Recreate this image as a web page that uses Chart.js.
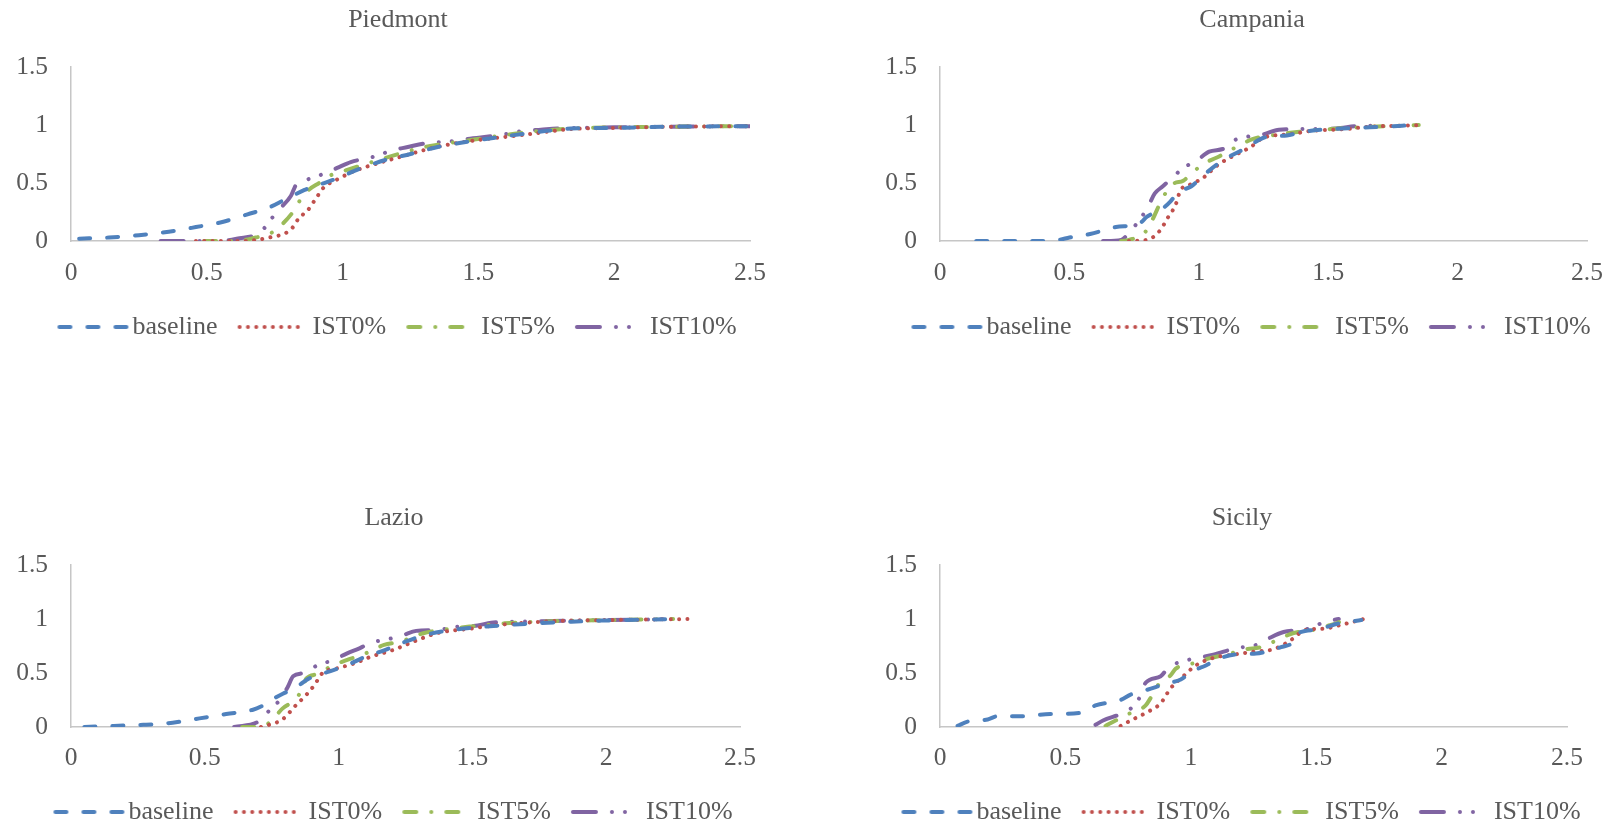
<!DOCTYPE html>
<html>
<head>
<meta charset="utf-8">
<title>Regional CDFs</title>
<script src="https://cdn.jsdelivr.net/npm/chart.js@4.4.1/dist/chart.umd.min.js"></script>
<style>
  html, body { margin: 0; padding: 0; background: #fff; overflow: hidden; }
  .panel { position: absolute; width: 805px; }
</style>
</head>
<body>
<div class="panel" style="left:0;top:0;height:355px"><canvas id="piedmont"></canvas></div>
<div class="panel" style="left:805px;top:0;height:355px"><canvas id="campania"></canvas></div>
<div class="panel" style="left:0;top:490px;height:350px"><canvas id="lazio"></canvas></div>
<div class="panel" style="left:805px;top:490px;height:350px"><canvas id="sicily"></canvas></div>

<script>
// series names and axis ticks
const seriesNames = ["baseline", "IST0%", "IST5%", "IST10%"];
const xTicks = [0, 0.5, 1, 1.5, 2, 2.5];
const yTicks = [0, 0.5, 1, 1.5];

// [x, y] points
const piedmontBaseline = [[0.03,0.02],[0.14,0.03],[0.25,0.05],[0.36,0.08],[0.46,0.12],[0.55,0.16],[0.65,0.23],[0.73,0.29],[0.79,0.36],[0.86,0.44],[0.92,0.49],[0.98,0.54],[1.06,0.62],[1.16,0.70],[1.25,0.75],[1.35,0.81],[1.47,0.86],[1.59,0.90],[1.72,0.94],[1.84,0.97],[2.0,0.975],[2.2,0.985],[2.5,0.99]];
const piedmontIst0 = [[0.46,0],[0.63,0],[0.73,0.03],[0.81,0.10],[0.84,0.20],[0.87,0.26],[0.90,0.36],[0.93,0.46],[0.98,0.53],[1.04,0.60],[1.13,0.67],[1.22,0.73],[1.31,0.79],[1.41,0.84],[1.53,0.88],[1.65,0.91],[1.78,0.95],[1.84,0.965],[2.0,0.975],[2.2,0.985],[2.5,0.99]];
const piedmontIst5 = [[0.49,0],[0.61,0],[0.68,0.03],[0.73,0.06],[0.78,0.15],[0.82,0.26],[0.84,0.34],[0.87,0.43],[0.92,0.51],[0.95,0.56],[1.0,0.60],[1.08,0.66],[1.15,0.71],[1.22,0.76],[1.30,0.81],[1.41,0.85],[1.53,0.89],[1.65,0.93],[1.78,0.96],[1.84,0.97],[2.0,0.98],[2.2,0.985],[2.5,0.99]];
const piedmontIst10 = [[0.33,0],[0.43,0],[0.55,0],[0.61,0.02],[0.70,0.08],[0.73,0.17],[0.77,0.28],[0.81,0.39],[0.83,0.49],[0.87,0.53],[0.92,0.57],[0.98,0.63],[1.03,0.68],[1.12,0.73],[1.18,0.78],[1.24,0.81],[1.30,0.84],[1.40,0.86],[1.46,0.88],[1.57,0.91],[1.67,0.95],[1.73,0.96],[1.79,0.97],[2.0,0.98],[2.2,0.985],[2.5,0.99]];

const campaniaBaseline = [[0.14,0],[0.25,0],[0.37,0],[0.46,0.01],[0.50,0.03],[0.58,0.06],[0.68,0.12],[0.77,0.15],[0.80,0.21],[0.86,0.28],[0.89,0.34],[0.92,0.42],[0.97,0.47],[1.02,0.57],[1.07,0.66],[1.12,0.73],[1.19,0.81],[1.25,0.89],[1.34,0.91],[1.40,0.94],[1.51,0.965],[1.66,0.98],[1.84,1.0]];
const campaniaIst0 = [[0.73,0],[0.80,0.01],[0.85,0.09],[0.88,0.20],[0.91,0.31],[0.93,0.44],[0.97,0.49],[1.02,0.55],[1.07,0.65],[1.13,0.73],[1.20,0.81],[1.25,0.89],[1.35,0.92],[1.44,0.95],[1.57,0.965],[1.66,0.985],[1.79,0.995],[1.86,1.0]];
const campaniaIst5 = [[0.70,0],[0.73,0.01],[0.79,0.07],[0.82,0.18],[0.86,0.37],[0.90,0.49],[0.94,0.52],[0.98,0.60],[1.03,0.68],[1.07,0.72],[1.12,0.78],[1.17,0.84],[1.21,0.88],[1.28,0.91],[1.38,0.94],[1.51,0.965],[1.66,0.985],[1.79,0.995],[1.85,1.0]];
const campaniaIst10 = [[0.63,0],[0.70,0.01],[0.73,0.07],[0.80,0.28],[0.83,0.41],[0.86,0.47],[0.90,0.55],[0.94,0.63],[0.99,0.69],[1.04,0.77],[1.10,0.80],[1.13,0.86],[1.19,0.90],[1.25,0.92],[1.31,0.96],[1.40,0.965],[1.53,0.97],[1.61,0.99],[1.71,0.995]];

const lazioBaseline = [[0.05,0],[0.16,0.01],[0.27,0.02],[0.38,0.04],[0.48,0.08],[0.58,0.12],[0.68,0.16],[0.71,0.19],[0.77,0.28],[0.81,0.33],[0.86,0.40],[0.89,0.45],[0.96,0.51],[1.03,0.57],[1.09,0.64],[1.17,0.71],[1.24,0.78],[1.32,0.85],[1.43,0.90],[1.55,0.93],[1.74,0.96],[1.87,0.975],[1.98,0.985],[2.15,0.995],[2.26,1.0]];
const lazioIst0 = [[0.71,0],[0.74,0.02],[0.79,0.07],[0.84,0.20],[0.88,0.30],[0.91,0.39],[0.94,0.50],[0.99,0.54],[1.06,0.59],[1.12,0.65],[1.20,0.71],[1.30,0.81],[1.37,0.87],[1.49,0.91],[1.62,0.95],[1.80,0.98],[2.0,0.99],[2.32,1.0]];
const lazioIst5 = [[0.64,0],[0.71,0],[0.75,0.06],[0.79,0.17],[0.83,0.24],[0.86,0.33],[0.88,0.45],[0.92,0.49],[0.97,0.56],[1.03,0.62],[1.09,0.67],[1.17,0.76],[1.23,0.79],[1.32,0.87],[1.42,0.91],[1.49,0.93],[1.62,0.96],[1.80,0.98],[2.0,0.99],[2.25,1.0]];
const lazioIst10 = [[0.61,0],[0.70,0.05],[0.74,0.15],[0.78,0.25],[0.81,0.37],[0.83,0.47],[0.87,0.50],[0.92,0.57],[0.98,0.62],[1.03,0.68],[1.08,0.73],[1.12,0.78],[1.18,0.81],[1.24,0.85],[1.29,0.89],[1.37,0.90],[1.45,0.93],[1.52,0.94],[1.57,0.965],[1.68,0.975],[2.0,0.99],[2.25,1.0]];

const sicilyBaseline = [[0.07,0.01],[0.11,0.05],[0.19,0.07],[0.23,0.10],[0.33,0.10],[0.44,0.12],[0.56,0.13],[0.62,0.20],[0.72,0.25],[0.76,0.30],[0.82,0.34],[0.90,0.40],[0.96,0.44],[1.01,0.52],[1.06,0.57],[1.10,0.62],[1.17,0.67],[1.26,0.68],[1.36,0.74],[1.41,0.79],[1.43,0.87],[1.50,0.90],[1.59,0.96],[1.68,0.99]];
const sicilyIst0 = [[0.72,0.01],[0.76,0.06],[0.82,0.13],[0.88,0.22],[0.92,0.36],[0.97,0.47],[1.02,0.57],[1.09,0.64],[1.17,0.67],[1.26,0.70],[1.33,0.72],[1.39,0.79],[1.46,0.90],[1.53,0.91],[1.59,0.94],[1.69,1.0]];
const sicilyIst5 = [[0.66,0.01],[0.70,0.06],[0.76,0.13],[0.82,0.20],[0.84,0.27],[0.87,0.39],[0.92,0.48],[0.94,0.54],[1.01,0.59],[1.08,0.64],[1.14,0.67],[1.22,0.72],[1.28,0.74],[1.33,0.79],[1.41,0.87],[1.49,0.90],[1.55,0.94],[1.59,0.97],[1.60,0.99]];
const sicilyIst10 = [[0.62,0.02],[0.65,0.06],[0.72,0.12],[0.76,0.17],[0.80,0.29],[0.82,0.41],[0.88,0.47],[0.91,0.55],[0.97,0.61],[1.03,0.64],[1.09,0.67],[1.18,0.73],[1.26,0.76],[1.31,0.82],[1.37,0.88],[1.47,0.91],[1.53,0.97],[1.59,1.0]];

const FONT = "'Liberation Serif', 'Times New Roman', serif";
const TEXT_COLOR = "#595959";
const AXIS_COLOR = "#c6c6c6";
const LINE_WIDTH = 4;

// excel 2007 palette + dash styles
const seriesColors = ["#4F81BD", "#C0504D", "#9BBB59", "#8064A2"];
const seriesDashes = [
  [11, 17],
  [0.01, 8.3],
  [12, 15, 0.01, 15],
  [23, 16, 0.01, 13, 0.01, 16]
];
// where each legend swatch stops (px inside its 80px image)
const swatchEnds = [78, 76, 67, 71];

// title and legend are centred on their own x, not on the layout box
const centerBoxes = {
  id: "centerBoxes",
  afterLayout(chart, args, opts) {
    [chart.titleBlock, chart.legend].forEach((b) => {
      if (!b) return;
      const d = opts.center - (b.left + b.right) / 2;
      b.left += d;
      b.right += d;
    });
  }
};

// legend swatch: a dashed line sitting close to its label
function legendSwatch(idx) {
  const c = document.createElement("canvas");
  c.width = 80;
  c.height = 8;
  const ctx = c.getContext("2d");
  ctx.strokeStyle = seriesColors[idx];
  ctx.lineWidth = LINE_WIDTH;
  ctx.lineCap = "round";
  ctx.setLineDash(seriesDashes[idx]);
  ctx.beginPath();
  ctx.moveTo(10, 4);
  ctx.lineTo(swatchEnds[idx], 4);
  ctx.stroke();
  return c;
}
const swatches = seriesColors.map((c, i) => legendSwatch(i));

function createDataSet(name, idx, points) {
  return {
    label: name,
    data: points.map(p => ({ x: p[0], y: p[1] })),
    showLine: true,
    borderColor: seriesColors[idx],
    backgroundColor: seriesColors[idx],
    borderWidth: LINE_WIDTH,
    borderDash: seriesDashes[idx],
    borderCapStyle: "round",
    borderJoinStyle: "round",
    pointRadius: 0,
    pointHoverRadius: 0,
    cubicInterpolationMode: "monotone",
  };
}

function legendLabels(chart) {
  const items = Chart.defaults.plugins.legend.labels.generateLabels(chart);
  items.forEach((item, i) => {
    item.pointStyle = swatches[i];
    item.lineWidth = LINE_WIDTH;
  });
  return items;
}

function showChart(id, title, series, box) {
  const config = {
    type: "scatter",
    data: {
      datasets: series.map((s, i) => createDataSet(seriesNames[i], i, s))
    },
    options: {
      animation: false,
      events: [],
      responsive: true,
      maintainAspectRatio: false,
      layout: {
        padding: { left: 0, right: box.padR, top: 0, bottom: 5 }
      },
      scales: {
        x: {
          type: "linear",
          min: 0,
          max: 2.5,
          afterBuildTicks: (scale) => { scale.ticks = xTicks.map(v => ({ value: v })); },
          afterFit: (scale) => {
            scale.height = box.xHeight;
            scale.paddingLeft = 0;
            scale.paddingRight = 0;
          },
          ticks: {
            color: TEXT_COLOR,
            font: { family: FONT, size: 25.5 },
            padding: box.xPad,
            maxRotation: 0,
            callback: (v) => String(v)
          },
          grid: { display: false, drawTicks: false },
          border: { display: true, color: AXIS_COLOR, width: 1.5 }
        },
        y: {
          type: "linear",
          min: 0,
          max: 1.5,
          afterBuildTicks: (scale) => { scale.ticks = yTicks.map(v => ({ value: v })); },
          afterFit: (scale) => {
            scale.width = box.yWidth;
            scale.paddingTop = 0;
            scale.paddingBottom = 0;
          },
          ticks: {
            color: TEXT_COLOR,
            font: { family: FONT, size: 25.5 },
            padding: 23,
            callback: (v) => String(v)
          },
          grid: { display: false, drawTicks: false },
          border: { display: true, color: AXIS_COLOR, width: 1.5 }
        }
      },
      plugins: {
        centerBoxes: { center: box.center },
        title: {
          display: true,
          text: title,
          color: TEXT_COLOR,
          font: { family: FONT, size: 26, weight: "normal" },
          padding: { top: box.titleTop, bottom: 67 - 31.2 - box.titleTop + box.topShift }
        },
        legend: {
          display: true,
          position: "bottom",
          labels: {
            color: TEXT_COLOR,
            font: { family: FONT, size: 26 },
            usePointStyle: true,
            pointStyleWidth: 60,
            padding: 22,
            generateLabels: legendLabels
          }
        },
        tooltip: { enabled: false }
      }
    },
    plugins: [centerBoxes]
  };

  new Chart(document.getElementById(id), config);
}

showChart("piedmont", "Piedmont",
  [piedmontBaseline, piedmontIst0, piedmontIst5, piedmontIst10],
  { padR: 55, yWidth: 71, center: 398, titleTop: 5, topShift: 0, xHeight: 51, xPad: 16.7 });

showChart("campania", "Campania",
  [campaniaBaseline, campaniaIst0, campaniaIst5, campaniaIst10],
  { padR: 23, yWidth: 135, center: 447, titleTop: 5, topShift: 0, xHeight: 51, xPad: 16.7 });

showChart("lazio", "Lazio",
  [lazioBaseline, lazioIst0, lazioIst5, lazioIst10],
  { padR: 65, yWidth: 71, center: 394, titleTop: 13, topShift: 8, xHeight: 50, xPad: 15.7 });

showChart("sicily", "Sicily",
  [sicilyBaseline, sicilyIst0, sicilyIst5, sicilyIst10],
  { padR: 43, yWidth: 135, center: 437, titleTop: 13, topShift: 8, xHeight: 50, xPad: 15.7 });
</script>
</body>
</html>
